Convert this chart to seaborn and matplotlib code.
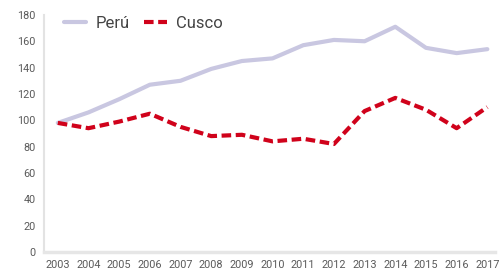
import pandas as pd
import matplotlib.pyplot as plt
import seaborn as sns

# valores (indice 2003 = ~100)
years = list(range(2003, 2018))
peru = [98, 106, 116, 127, 130, 139, 145, 147, 157, 161, 160, 171, 155, 151, 154]
cusco = [98, 94, 99, 105, 95, 88, 89, 84, 86, 82, 107, 117, 108, 94, 110]
series_names = ['Perú', 'Cusco']

data = pd.DataFrame({'year': years, 'Perú': peru, 'Cusco': cusco})
long_data = data.melt(id_vars='year', var_name='serie', value_name='valor')

sns.set_style('white')
plt.rcParams['font.family'] = ['Roboto', 'DejaVu Sans']

fig = plt.figure(figsize=(5, 2.71), dpi=100)
ax = fig.add_axes([0.088, 0.07, 0.902, 0.875])

sns.lineplot(data=long_data, x='year', y='valor', hue='serie', style='serie',
             hue_order=series_names, style_order=series_names,
             palette={'Perú': '#c9c7e1', 'Cusco': '#d0021b'},
             dashes={'Perú': '', 'Cusco': (2.3, 1.1)},
             linewidth=3, ax=ax)

ax.set_xlim(2002.55, 2017.25)
ax.set_ylim(0, 180)
ax.set_xticks(years)
ax.set_yticks(range(0, 181, 20))
ax.set_xlabel('')
ax.set_ylabel('')
ax.tick_params(axis='both', labelsize=7.8, colors='#5a5a5a', length=0, pad=6)

for side in ['top', 'right']:
    ax.spines[side].set_visible(False)
ax.spines['left'].set_color('#e3e3e3')
ax.spines['left'].set_linewidth(1.5)
ax.spines['bottom'].set_color('#e6e6e6')
ax.spines['bottom'].set_linewidth(2.5)

leg = ax.legend(loc='upper left', bbox_to_anchor=(0.01, 1.06), ncol=2, frameon=False,
                fontsize=12, handlelength=1.35, columnspacing=0.9, handletextpad=0.55)
for t in leg.get_texts():
    t.set_color('#444444')

fig.savefig('out.png', dpi=100)
